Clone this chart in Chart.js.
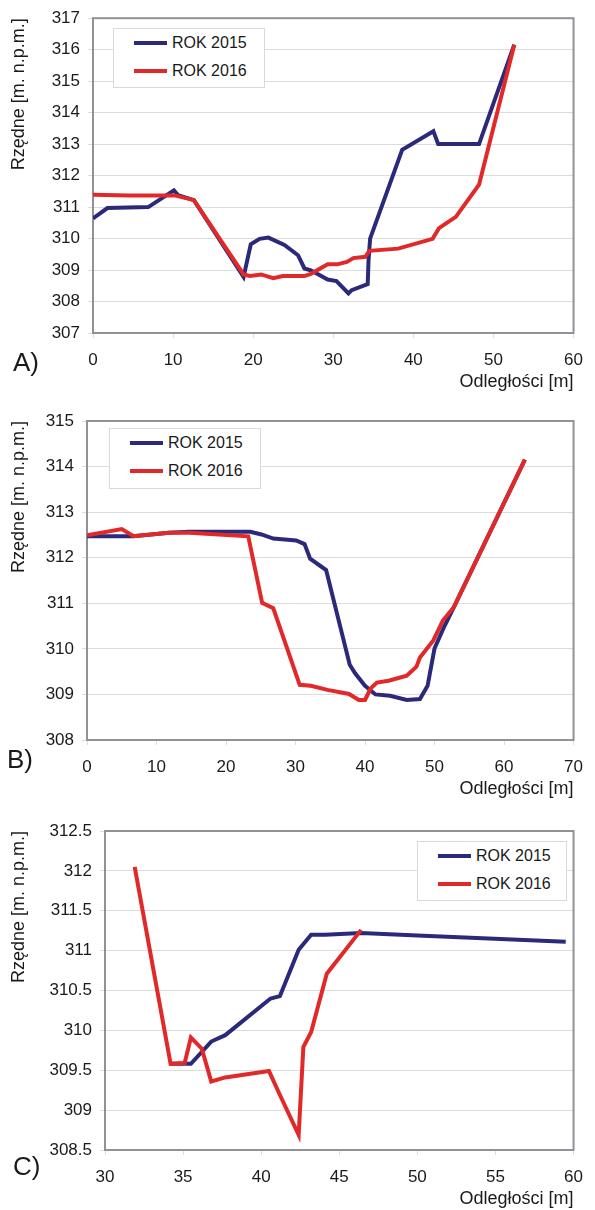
<!DOCTYPE html>
<html>
<head>
<meta charset="utf-8">
<script src="https://cdn.jsdelivr.net/npm/chart.js@4/dist/chart.umd.min.js"></script>
<style>
  body { margin: 0; background: #fff; width: 595px; height: 1210px; position: relative; overflow: hidden;
         font-family: "Liberation Sans", Arial, sans-serif; color: #1a1a1a; }
  .panel { position: absolute; left: 0; }
  .letter { position: absolute; font-size: 26px; line-height: 26px; }
  .legend { position: absolute; box-sizing: border-box; border: 1px solid #dadada; background: #fff; font-size: 16px; }
  .legend .item { position: absolute; left: 0; height: 28px; width: 100%; }
  .legend .swatch { position: absolute; left: 20px; top: 12px; width: 33px; height: 4px; }
  .legend .txt { position: absolute; left: 58px; top: 0; line-height: 28px; white-space: nowrap; }
</style>
</head>
<body>

<canvas id="chartA" class="panel" width="595" height="393" style="top:0px"></canvas>
<canvas id="chartB" class="panel" width="595" height="400" style="top:400px"></canvas>
<canvas id="chartC" class="panel" width="595" height="410" style="top:800px"></canvas>

<div class="letter" style="left:13px; top:349px">A)</div>
<div class="letter" style="left:7px; top:746px">B)</div>
<div class="letter" style="left:13px; top:1153px">C)</div>

<div id="legendA" class="legend" style="left:113px; top:28px; width:152px; height:60px"></div>
<div id="legendB" class="legend" style="left:109px; top:428px; width:152px; height:61px"></div>
<div id="legendC" class="legend" style="left:417px; top:841px; width:150px; height:60px"></div>

<script>
"use strict";

const seriesNames = ["ROK 2015", "ROK 2016"];
const blue = "#2b2a7a";
const red = "#e2292a";

// A) cross-section
const aDist2015 = [0, 1.8, 6.9, 10.1, 10.6, 12.6, 18.8, 19.7, 20.8, 21.9, 23.9, 25.6, 26.4, 27.2, 29.3, 30.4,
                   31.9, 32.3, 34.3, 34.4, 34.6, 38.6, 42.5, 43.1, 48.2, 52.6];
const aElev2015 = [310.64, 310.97, 311.0, 311.53, 311.38, 311.22, 308.78, 309.82, 309.99, 310.03, 309.8, 309.47,
                   309.05, 308.99, 308.7, 308.65, 308.26, 308.36, 308.55, 309.3, 310.0, 312.82, 313.41, 313.0,
                   313.0, 316.16];
const aDist2016 = [0, 4.6, 10.2, 12.6, 18.8, 19.6, 21.0, 22.5, 23.7, 26.4, 27.2, 29.3, 30.5, 31.7, 32.5, 34.0,
                   34.5, 38.1, 42.4, 43.2, 45.3, 48.2, 52.6];
const aElev2016 = [311.39, 311.37, 311.37, 311.22, 308.86, 308.81, 308.86, 308.74, 308.81, 308.81, 308.88,
                   309.18, 309.18, 309.26, 309.38, 309.42, 309.61, 309.68, 309.99, 310.33, 310.69, 311.71, 316.16];
const aTicksX = [0, 10, 20, 30, 40, 50, 60];
const aTicksY = [307, 308, 309, 310, 311, 312, 313, 314, 315, 316, 317];

// B) cross-section
const bDist2015 = [0, 6.6, 11.8, 14.7, 23.5, 25.1, 26.8, 30.1, 31.3, 32.1, 34.4, 37.8, 38.6, 40.0, 41.5, 43.6,
                   46.0, 47.9, 49.0, 50.0, 51.4, 52.8, 63.0];
const bElev2015 = [312.47, 312.47, 312.55, 312.57, 312.57, 312.51, 312.42, 312.38, 312.3, 311.98, 311.73,
                   309.65, 309.46, 309.19, 309.0, 308.97, 308.88, 308.9, 309.19, 310.01, 310.49, 310.92, 314.15];
const bDist2016 = [0, 5.0, 6.7, 11.8, 14.7, 23.2, 25.2, 26.8, 30.6, 32.2, 34.6, 37.7, 39.1, 40.0, 40.8, 41.7,
                   43.4, 46.0, 47.4, 47.9, 49.8, 51.2, 52.8, 63.0];
const bElev2016 = [312.49, 312.63, 312.47, 312.55, 312.55, 312.47, 311.01, 310.89, 309.21, 309.19, 309.1,
                   309.01, 308.88, 308.88, 309.13, 309.26, 309.3, 309.41, 309.61, 309.81, 310.18, 310.62,
                   310.92, 314.15];
const bTicksX = [0, 10, 20, 30, 40, 50, 60, 70];
const bTicksY = [308, 309, 310, 311, 312, 313, 314, 315];

// C) cross-section
const cDist2015 = [34.2, 35.5, 36.8, 37.7, 40.6, 41.2, 42.4, 43.2, 44.1, 46.4, 50.0, 59.5];
const cElev2015 = [309.58, 309.58, 309.86, 309.94, 310.4, 310.43, 311.01, 311.2, 311.2, 311.22, 311.19, 311.11];
const cDist2016 = [31.9, 34.2, 35.1, 35.5, 36.2, 36.8, 37.7, 40.5, 41.2, 42.4, 42.7, 43.2, 44.2, 46.4];
const cElev2016 = [312.05, 309.58, 309.59, 309.91, 309.77, 309.36, 309.41, 309.49, 309.19, 308.69, 309.79,
                   309.98, 310.71, 311.26];
const cTicksX = [30, 35, 40, 45, 50, 55, 60];
const cTicksY = [308.5, 309, 309.5, 310, 310.5, 311, 311.5, 312, 312.5];

const textColor = "#1a1a1a";
const gridColor = "#dcdcdc";
const fontFamily = '"Liberation Sans", Arial, sans-serif';

let toPoints = function (xs, ys) {
  return xs.map(function (x, i) { return { x: x, y: ys[i] }; });
};

// grey box round the plot area, like the spreadsheet original
const frame = {
  id: "frame",
  beforeDatasetsDraw(chart) {
    const a = chart.chartArea;
    const c = chart.ctx;
    c.save();
    c.strokeStyle = "#8f9397";
    c.lineWidth = 2;
    c.strokeRect(a.left, a.top, a.right - a.left, a.bottom - a.top);
    c.restore();
  }
};

let makeChart = function (id, d) {
  const ctx = document.getElementById(id).getContext("2d");
  const setTicks = function (list) {
    return function (scale) { scale.ticks = list.map(function (v) { return { value: v }; }); };
  };
  return new Chart(ctx, {
    type: "line",
    data: {
      datasets: [
        { label: seriesNames[0], data: toPoints(d.x15, d.y15), borderColor: blue, backgroundColor: blue, order: 1 },
        { label: seriesNames[1], data: toPoints(d.x16, d.y16), borderColor: red, backgroundColor: red, order: 0 }
      ]
    },
    options: {
      responsive: false,
      animation: false,
      events: [],
      layout: { padding: { top: d.top, right: 595 - d.right, left: 0, bottom: 0 } },
      elements: {
        point: { radius: 0 },
        line: { borderWidth: 4, tension: 0 }
      },
      plugins: { legend: { display: false }, tooltip: { enabled: false } },
      scales: {
        x: {
          type: "linear",
          min: d.xt[0],
          max: d.xt[d.xt.length - 1],
          afterBuildTicks: setTicks(d.xt),
          afterFit: function (s) { s.height = 60; },
          border: { display: false },
          grid: { drawOnChartArea: false, color: gridColor, tickLength: 5 },
          ticks: {
            padding: 12, maxRotation: 0, color: textColor,
            font: { family: fontFamily, size: 17 },
            callback: function (v) { return String(v); }
          },
          title: {
            display: true, text: "Odległości [m]", align: "end", color: textColor,
            font: { family: fontFamily, size: 18 }, padding: 0
          }
        },
        y: {
          min: d.yt[0],
          max: d.yt[d.yt.length - 1],
          afterBuildTicks: setTicks(d.yt),
          afterFit: function (s) { s.width = d.left; },
          border: { display: false },
          grid: { color: gridColor, tickLength: 5 },
          ticks: {
            padding: 8, color: textColor,
            font: { family: fontFamily, size: 17 },
            callback: function (v) { return String(v); }
          },
          title: {
            display: true, text: "Rzędne [m. n.p.m.]", align: "end", color: textColor,
            font: { family: fontFamily, size: 18 }, padding: { top: 8, bottom: 0 }
          }
        }
      }
    },
    plugins: [frame]
  });
};

let buildLegend = function (chart, boxId) {
  const box = document.getElementById(boxId);
  chart.data.datasets.forEach(function (ds, i) {
    const row = document.createElement("div");
    row.className = "item";
    row.style.top = (i * 28) + "px";
    const swatch = document.createElement("span");
    swatch.className = "swatch";
    swatch.style.background = ds.borderColor;
    const txt = document.createElement("span");
    txt.className = "txt";
    txt.textContent = ds.label;
    row.appendChild(swatch);
    row.appendChild(txt);
    box.appendChild(row);
  });
};

const chartA = makeChart("chartA", {
  x15: aDist2015, y15: aElev2015, x16: aDist2016, y16: aElev2016,
  xt: aTicksX, yt: aTicksY, left: 93, right: 579, top: 14
});
const chartB = makeChart("chartB", {
  x15: bDist2015, y15: bElev2015, x16: bDist2016, y16: bElev2016,
  xt: bTicksX, yt: bTicksY, left: 87, right: 579, top: 21
});
const chartC = makeChart("chartC", {
  x15: cDist2015, y15: cElev2015, x16: cDist2016, y16: cElev2016,
  xt: cTicksX, yt: cTicksY, left: 105, right: 583, top: 31
});

buildLegend(chartA, "legendA");
buildLegend(chartB, "legendB");
buildLegend(chartC, "legendC");
</script>
</body>
</html>
